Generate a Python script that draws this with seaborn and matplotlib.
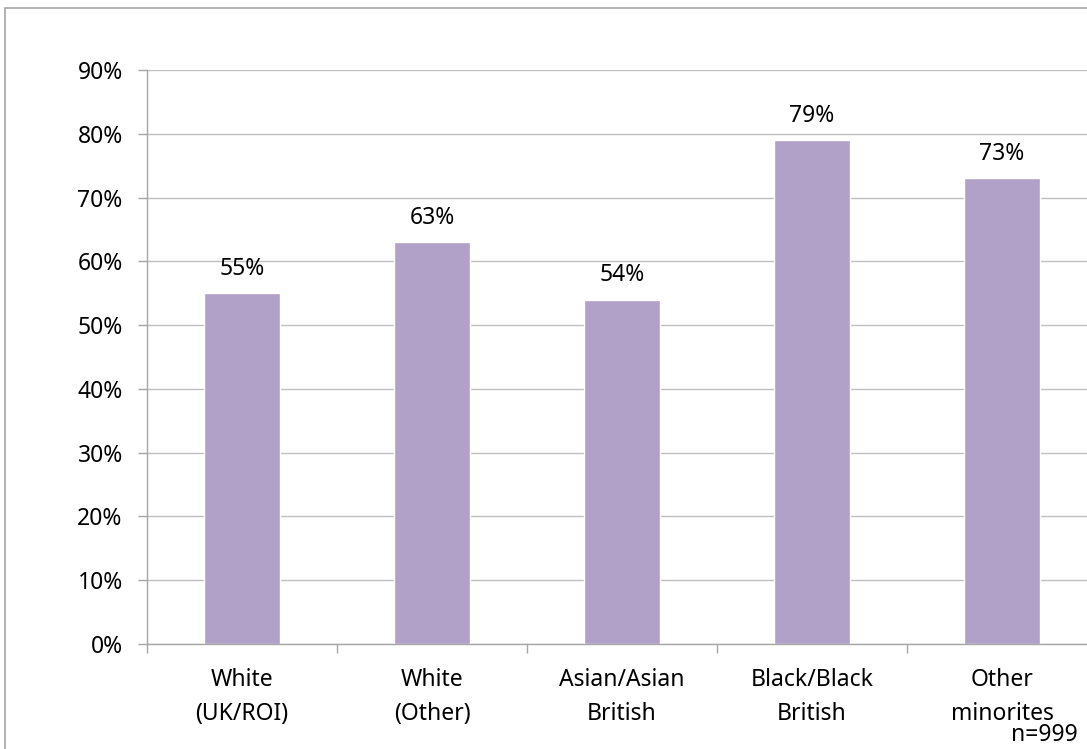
import matplotlib
matplotlib.use("Agg")
import matplotlib.pyplot as plt
from matplotlib.patches import Rectangle
from matplotlib.ticker import FixedLocator
import seaborn as sns
import pandas as pd

categories = ["White\n(UK/ROI)", "White\n(Other)", "Asian/Asian\nBritish",
              "Black/Black\nBritish", "Other\nminorites"]
values = [55, 63, 54, 79, 73]
y_ticks = [0, 10, 20, 30, 40, 50, 60, 70, 80, 90]

sns.set_theme(style="white")
plt.rcParams["font.family"] = ["Noto Sans", "DejaVu Sans"]

FS = 16.5

df = pd.DataFrame({"group": categories, "pct": values})

fig = plt.figure(figsize=(10.87, 7.49), dpi=100)
ax = fig.add_axes([147 / 1087, 1 - 644 / 749, 950 / 1087, 574 / 749])

sns.barplot(data=df, x="group", y="pct", color="#B1A0C7", saturation=1,
            width=0.4, ax=ax)

ax.set_ylim(0, 90)
ax.set_xlim(-0.5, 4.5)
ax.set_yticks(y_ticks)
ax.set_yticklabels([f"{t}%" for t in y_ticks], fontsize=FS, color="black")
ax.yaxis.grid(True, color="#BFBFBF", linewidth=1.0)
ax.set_axisbelow(True)

ax.set_xticks(range(len(categories)))
ax.set_xticklabels(categories, fontsize=FS, color="black", linespacing=1.55)
ax.tick_params(axis="x", length=0, pad=17)
ax.xaxis.set_minor_locator(FixedLocator([i - 0.5 for i in range(len(categories) + 1)]))
ax.tick_params(axis="x", which="minor", length=6.5, color="#A6A6A6", width=1, bottom=True)
ax.tick_params(axis="y", length=6.5, color="#A6A6A6", width=1, left=True, pad=11)

for side in ["top", "right"]:
    ax.spines[side].set_visible(False)
for side in ["left", "bottom"]:
    ax.spines[side].set_color("#A6A6A6")
    ax.spines[side].set_linewidth(1)

ax.set_xlabel("")
ax.set_ylabel("")

for i, v in enumerate(values):
    ax.annotate(f"{v}%", (i, v), xytext=(0, 9), textcoords="offset points",
                ha="center", va="bottom", fontsize=FS, color="black")

fig.text(1078 / 1087, 1 - 735 / 749, "n=999", ha="right", va="center",
         fontsize=FS, color="black")

# chart frame
fig.patches.append(Rectangle((5 / 1087, -0.05), 1.1, 1 - 8 / 749 + 0.05,
                             transform=fig.transFigure, fill=False,
                             edgecolor="#A6A6A6", linewidth=1.2, clip_on=False))

fig.savefig("out.png", dpi=100)
